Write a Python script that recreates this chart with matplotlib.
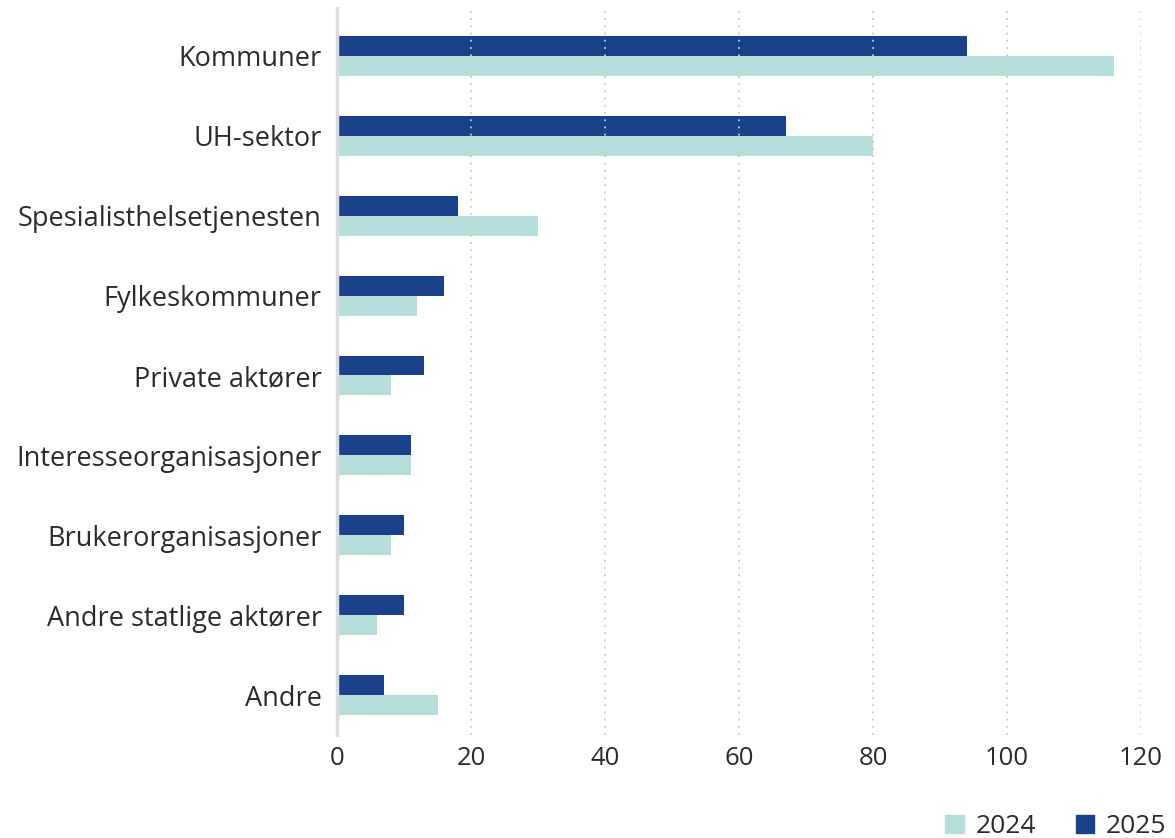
import matplotlib
matplotlib.use("Agg")
import matplotlib.pyplot as plt
from matplotlib.patches import Patch
import numpy as np

# data
categories = [
    "Kommuner", "UH-sektor", "Spesialisthelsetjenesten", "Fylkeskommuner",
    "Private aktører", "Interesseorganisasjoner", "Brukerorganisasjoner",
    "Andre statlige aktører", "Andre",
]
values_2024 = [116, 80, 30, 12, 8, 11, 8, 6, 15]
values_2025 = [94, 67, 18, 16, 13, 11, 10, 10, 7]
x_ticks = [0, 20, 40, 60, 80, 100, 120]

c2024 = "#b5dedb"
c2025 = "#19428a"
text_col = "#2b2b2b"

plt.rcParams["font.family"] = ["Open Sans", "DejaVu Sans"]

fig = plt.figure(figsize=(11.75, 8.38), dpi=100)
ax = fig.add_axes([337 / 1175, 1 - 735 / 838, (1141 - 337) / 1175, (735 - 8) / 838])

y = np.arange(len(categories))
h = 0.25
ax.barh(y - h / 2, values_2025, height=h, color=c2025, zorder=3)
ax.barh(y + h / 2, values_2024, height=h, color=c2024, zorder=3)

ax.set_xlim(0, 120)
ax.set_ylim(8.5, -0.6)
ax.set_yticks(y)
ax.set_yticklabels(categories, fontsize=19.5, color=text_col)
ax.set_xticks(x_ticks)
ax.set_xticklabels([str(t) for t in x_ticks], fontsize=18.5, color=text_col)
ax.tick_params(axis="both", length=0)
ax.tick_params(axis="y", pad=11)
ax.tick_params(axis="x", pad=8)

for s in ["top", "right", "bottom"]:
    ax.spines[s].set_visible(False)
ax.spines["left"].set_color("#dcdcdc")
ax.spines["left"].set_linewidth(2.5)
ax.spines["left"].set_zorder(4)

for t in x_ticks[1:]:
    ax.axvline(t, color="#c8c8c8", linestyle=(0, (1, 3)), linewidth=1.3, zorder=4)

handles = [Patch(color=c2024, label="2024"), Patch(color=c2025, label="2025")]
fig.legend(handles=handles, loc="lower right", bbox_to_anchor=(1.013, -0.03), ncol=2,
           frameon=False, fontsize=19, handlelength=0.7, handleheight=0.7,
           handletextpad=0.45, columnspacing=1.5, labelcolor=text_col)

fig.savefig("out.png", dpi=100)
